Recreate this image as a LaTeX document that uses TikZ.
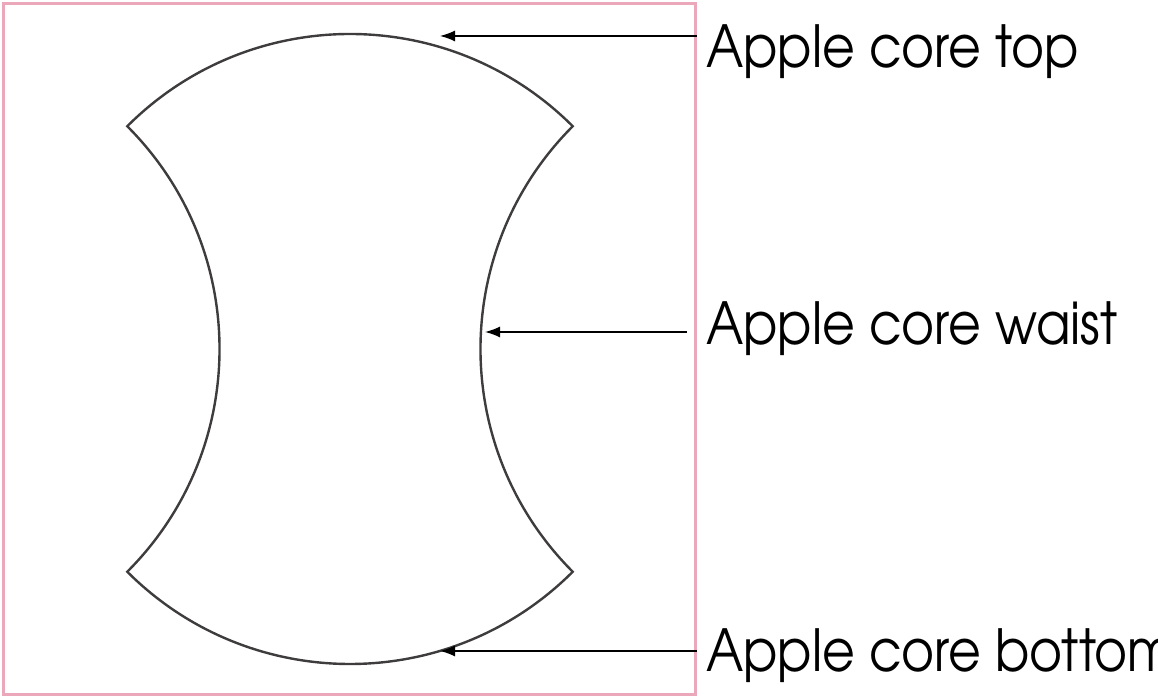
\documentclass[tikz,border=0pt]{standalone}
\usepackage{fontspec}
\newfontfamily\corefont[FakeStretch=0.87]{TeX Gyre Adventor}
\usetikzlibrary{arrows.meta}
\definecolor{framepink}{RGB}{234,168,186}
\definecolor{coregray}{RGB}{62,60,60}
\begin{document}
\begin{tikzpicture}[x=1pt,y=1pt,
  core/.style={draw=coregray,line width=2.4pt,line join=miter},
  pointer/.style={draw,line width=1.4pt,-{Latex[length=15pt,width=11pt]}},
  lbl/.style={font=\corefont\fontsize{58}{60}\selectfont,anchor=base west,inner sep=0pt}]
\useasboundingbox (0,0) rectangle (1158,698);
\draw[framepink,line width=3pt] (3.5,3) rectangle (695.5,694);

% the apple core, four arcs of equal radius
\coordinate (mid) at (350,349);
\draw[core] (mid) ++(135:315) arc[start angle=135,end angle=45,radius=315]
  arc[start angle=135,end angle=225,radius=315]
  arc[start angle=315,end angle=225,radius=315]
  arc[start angle=-45,end angle=45,radius=315] -- cycle;

% labels
\node[lbl] (top) at (706,630) {Apple core top};
\node[lbl] (waist) at (706,353) {Apple core waist};
\node[lbl] (bottom) at (706,26) {Apple core bottom};

\coordinate (toptip) at (440,662);
\coordinate (waisttip) at (485,366);
\coordinate (bottomtip) at (440,47);

\path[pointer] ([xshift=-9pt]top.west |- toptip) -- (toptip);
\path[pointer] ([xshift=-19pt]waist.west |- waisttip) -- (waisttip);
\path[pointer] ([xshift=-9pt]bottom.west |- bottomtip) -- (bottomtip);
\end{tikzpicture}
\end{document}
